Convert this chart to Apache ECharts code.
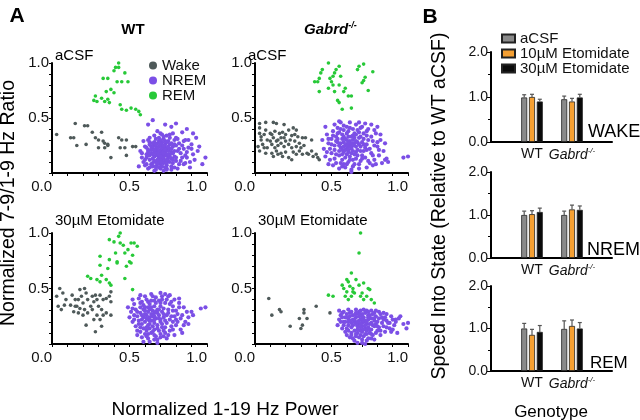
<!DOCTYPE html>
<html><head><meta charset="utf-8">
<script src="https://cdn.jsdelivr.net/npm/echarts@6/dist/echarts.min.js"></script>
<style>html,body{margin:0;padding:0;background:#fff}#c{width:640px;height:420px}</style>
</head><body><div id="c"></div><script>
// ---------- DATA ----------
const stateNames = ['Wake', 'NREM', 'REM'];
const scatterTicks = [0, 0.5, 1.0];
const barTicks = [0, 1, 2];
const genotypes = ['WT', 'Gabrd-/-'];
const conditions = ['aCSF', '10µM Etomidate', '30µM Etomidate'];
const barStates = ['WAKE', 'NREM', 'REM'];

// WT, aCSF
const wtAcsfWake = [[0.03,0.35],[0.15,0.45],[0.21,0.43],[0.23,0.43],[0.12,0.32],[0.14,0.32],[0.16,0.25],[0.22,0.26],[0.26,0.37],[0.28,0.32],[0.30,0.30],[0.32,0.37],[0.33,0.29],[0.34,0.27],[0.36,0.26],[0.30,0.23],[0.34,0.23],[0.38,0.14],[0.43,0.32],[0.45,0.30],[0.48,0.30],[0.44,0.23],[0.47,0.23],[0.48,0.16],[0.52,0.24],[0.54,0.24],[0.36,0.25]];
const wtAcsfRem = [[0.43,1.00],[0.41,0.96],[0.43,0.96],[0.40,0.93],[0.33,0.86],[0.36,0.86],[0.47,0.91],[0.42,0.83],[0.45,0.83],[0.49,0.83],[0.38,0.76],[0.35,0.74],[0.40,0.73],[0.28,0.70],[0.27,0.66],[0.32,0.68],[0.34,0.65],[0.37,0.64],[0.29,0.65],[0.44,0.62],[0.45,0.58],[0.51,0.59],[0.54,0.58],[0.56,0.56],[0.57,0.53],[0.48,0.57],[0.36,0.67]];
const wtAcsfNrem = [[0.70,0.18],[0.72,0.16],[0.68,0.20],[0.74,0.22],[0.66,0.15],[0.71,0.12],[0.75,0.14],[0.69,0.24],[0.73,0.26],[0.67,0.10],[0.77,0.19],[0.64,0.18],[0.70,0.08],[0.76,0.10],[0.72,0.21],[0.69,0.14],[0.65,0.22],[0.78,0.24],[0.71,0.28],[0.74,0.07],[0.63,0.12],[0.68,0.27],[0.79,0.15],[0.66,0.25],[0.73,0.11],[0.70,0.04],[0.81,0.20],[0.62,0.21],[0.75,0.29],[0.67,0.06],[0.72,0.31],[0.78,0.09],[0.64,0.08],[0.69,0.32],[0.76,0.17],[0.71,0.23],[0.73,0.19],[0.68,0.16],[0.70,0.13],[0.74,0.16],[0.66,0.19],[0.72,0.09],[0.69,0.11],[0.77,0.13],[0.65,0.13],[0.71,0.16],[0.73,0.23],[0.67,0.22],[0.70,0.21],[0.75,0.20],[0.68,0.08],[0.80,0.11],[0.83,0.18],[0.82,0.27],[0.85,0.22],[0.79,0.30],[0.61,0.17],[0.60,0.24],[0.63,0.28],[0.66,0.34],[0.70,0.36],[0.74,0.34],[0.78,0.36],[0.84,0.14],[0.86,0.09],[0.81,0.04],[0.77,0.03],[0.72,0.02],[0.67,0.03],[0.62,0.04],[0.59,0.10],[0.58,0.18],[0.88,0.30],[0.87,0.19],[0.90,0.22],[0.92,0.12],[0.94,0.20],[0.89,0.10],[0.76,0.26],[0.80,0.25],[0.62,0.30],[0.69,0.29],[0.73,0.29],[0.66,0.28],[0.64,0.24],[0.77,0.06],[0.74,0.04],[0.69,0.05],[0.65,0.09],[0.82,0.08],[0.79,0.20],[0.71,0.10],[0.68,0.12],[0.72,0.14],[0.75,0.11],[0.70,0.26],[0.67,0.18],[0.74,0.28],[0.76,0.22],[0.63,0.16],
  [0.65,0.48],[0.62,0.44],[0.73,0.44],[0.77,0.42],[0.80,0.45],[0.87,0.40],[0.84,0.37],[0.91,0.36],[0.93,0.32],[0.95,0.24],[0.99,0.14],[0.97,0.08],[0.89,0.05],[0.57,0.20],[0.56,0.06],[0.60,0.12],[0.59,0.29],[0.63,0.32],[0.68,0.38],[0.71,0.35],[0.76,0.35],[0.80,0.32],[0.86,0.30],[0.90,0.26],[0.91,0.17],[0.87,0.14],[0.85,0.08],[0.79,0.05],[0.74,0.03],[0.66,0.02],[0.63,0.05],[0.61,0.08],[0.58,0.14],[0.61,0.23],[0.65,0.27],
  [0.71,0.19],[0.69,0.17],[0.73,0.17],[0.72,0.25],[0.68,0.23],[0.74,0.12],[0.66,0.11],[0.70,0.10],[0.75,0.24],[0.77,0.27],[0.64,0.21],[0.67,0.26],[0.73,0.21],[0.70,0.30],[0.78,0.18],[0.76,0.15],[0.65,0.17],[0.71,0.06],[0.74,0.09],[0.68,0.09],[0.80,0.14],[0.82,0.22],[0.79,0.26],[0.84,0.25],[0.81,0.31],[0.67,0.31],[0.72,0.33],[0.76,0.32],[0.63,0.26],[0.61,0.14],[0.69,0.20],[0.72,0.18],[0.75,0.17],[0.66,0.21],[0.70,0.15],[0.78,0.12],[0.83,0.11],[0.86,0.16],[0.88,0.23],[0.85,0.29],[0.73,0.05],[0.65,0.06],[0.60,0.07],[0.62,0.19],[0.77,0.22]];

// Gabrd-/-, aCSF
const koAcsfWake = [[0.03,0.45],[0.03,0.41],[0.07,0.46],[0.12,0.46],[0.14,0.45],[0.19,0.44],[0.22,0.39],[0.25,0.41],[0.27,0.39],[0.03,0.36],[0.06,0.35],[0.10,0.36],[0.13,0.38],[0.16,0.36],[0.18,0.37],[0.20,0.35],[0.24,0.34],[0.31,0.32],[0.33,0.32],[0.37,0.30],[0.04,0.30],[0.08,0.30],[0.12,0.32],[0.15,0.30],[0.19,0.32],[0.23,0.30],[0.26,0.29],[0.29,0.27],[0.02,0.24],[0.05,0.26],[0.08,0.23],[0.11,0.26],[0.13,0.23],[0.15,0.25],[0.17,0.27],[0.19,0.24],[0.22,0.26],[0.24,0.23],[0.27,0.24],[0.30,0.23],[0.32,0.25],[0.03,0.20],[0.07,0.18],[0.11,0.18],[0.14,0.20],[0.17,0.18],[0.20,0.19],[0.25,0.19],[0.34,0.18],[0.37,0.20],[0.38,0.15],[0.41,0.14],[0.42,0.12],[0.12,0.15],[0.18,0.15],[0.22,0.14],[0.24,0.12],[0.15,0.17],[0.29,0.20],[0.27,0.17],[0.31,0.17],[0.06,0.23],[0.10,0.29],[0.14,0.29],[0.20,0.29],[0.17,0.32],[0.11,0.35],[0.26,0.35],[0.28,0.33],[0.35,0.17],[0.40,0.17],[0.07,0.39],[0.04,0.33]];
const koAcsfRem = [[0.48,1.00],[0.55,0.97],[0.53,0.94],[0.44,0.94],[0.43,0.91],[0.52,0.91],[0.56,0.88],[0.51,0.88],[0.71,0.99],[0.68,0.97],[0.67,0.94],[0.77,0.92],[0.42,0.86],[0.39,0.83],[0.49,0.86],[0.50,0.83],[0.51,0.80],[0.72,0.87],[0.71,0.84],[0.70,0.82],[0.55,0.80],[0.59,0.77],[0.42,0.74],[0.52,0.74],[0.58,0.74],[0.74,0.75],[0.61,0.70],[0.63,0.70],[0.54,0.66],[0.55,0.64],[0.57,0.58],[0.63,0.59],[0.48,0.77],[0.41,0.83]];
const koAcsfNrem = [[0.62,0.26],[0.60,0.22],[0.64,0.30],[0.58,0.28],[0.66,0.24],[0.55,0.20],[0.63,0.18],[0.68,0.32],[0.57,0.35],[0.61,0.38],[0.65,0.36],[0.70,0.28],[0.52,0.25],[0.54,0.31],[0.59,0.14],[0.67,0.16],[0.71,0.20],[0.73,0.34],[0.50,0.18],[0.48,0.27],[0.47,0.35],[0.49,0.12],[0.53,0.09],[0.57,0.06],[0.61,0.10],[0.65,0.08],[0.69,0.11],[0.72,0.14],[0.75,0.22],[0.77,0.29],[0.74,0.40],[0.70,0.42],[0.66,0.44],[0.62,0.46],[0.58,0.43],[0.54,0.41],[0.51,0.38],[0.46,0.42],[0.45,0.22],[0.44,0.30],[0.46,0.15],[0.60,0.30],[0.63,0.22],[0.59,0.25],[0.56,0.27],[0.64,0.20],[0.61,0.33],[0.67,0.28],[0.69,0.24],[0.55,0.16],[0.58,0.19],[0.62,0.15],[0.66,0.19],[0.53,0.33],[0.57,0.31],[0.60,0.36],[0.64,0.34],[0.68,0.37],[0.71,0.31],[0.73,0.26],[0.76,0.18],[0.78,0.12],[0.80,0.24],[0.79,0.36],[0.82,0.30],[0.84,0.20],[0.81,0.16],[0.83,0.09],[0.86,0.13],[0.77,0.07],[0.73,0.05],[0.68,0.04],[0.63,0.03],[0.59,0.05],[0.55,0.04],[0.51,0.07],[0.48,0.08],[0.52,0.44],[0.56,0.46],[0.68,0.46],[0.72,0.45],[0.76,0.44],[0.80,0.42],[0.63,0.27],[0.65,0.32],[0.59,0.21],[0.56,0.23],[0.61,0.19],[0.54,0.28],[0.50,0.31],[0.52,0.21],[0.66,0.13],[0.70,0.16],[0.62,0.41],[0.58,0.39],[0.71,0.36],[0.74,0.30],[0.69,0.20],[0.60,0.08],[0.57,0.12],[0.64,0.12],[0.67,0.39],[0.55,0.37],[0.49,0.22],[0.78,0.39],[0.75,0.09],[0.72,0.23],[0.65,0.27],[0.61,0.24],[0.58,0.33],[0.53,0.17],[0.47,0.19],[0.81,0.21],[0.85,0.27],[0.87,0.10],[0.55,0.47],[0.85,0.12],[0.97,0.14],[1.00,0.15],[0.63,0.01],
  [0.62,0.29],[0.60,0.26],[0.64,0.25],[0.66,0.29],[0.58,0.24],[0.61,0.21],[0.63,0.33],[0.59,0.31],[0.67,0.21],[0.65,0.17],[0.57,0.17],[0.55,0.25],[0.53,0.29],[0.69,0.33],[0.71,0.26],[0.73,0.21],[0.70,0.13],[0.62,0.12],[0.56,0.09],[0.52,0.13],[0.50,0.26],[0.51,0.34],[0.56,0.40],[0.60,0.42],[0.64,0.40],[0.69,0.41],[0.73,0.38],[0.76,0.33],[0.78,0.25],[0.77,0.16],[0.74,0.11],[0.68,0.08],[0.60,0.17],[0.63,0.23],[0.66,0.35],[0.61,0.28],[0.57,0.21],[0.68,0.26],[0.54,0.36],[0.48,0.31],[0.82,0.35],[0.80,0.28],[0.79,0.08],[0.64,0.06],[0.58,0.08]];

// WT, 30 µM etomidate
const wtEtoWake = [[0.03,0.43],[0.05,0.50],[0.07,0.46],[0.04,0.34],[0.06,0.31],[0.09,0.40],[0.12,0.35],[0.13,0.44],[0.15,0.40],[0.16,0.34],[0.18,0.49],[0.19,0.43],[0.20,0.37],[0.21,0.50],[0.22,0.46],[0.23,0.40],[0.25,0.34],[0.26,0.43],[0.27,0.38],[0.29,0.40],[0.30,0.34],[0.31,0.44],[0.33,0.40],[0.35,0.41],[0.37,0.43],[0.38,0.38],[0.32,0.31],[0.35,0.28],[0.38,0.26],[0.29,0.26],[0.27,0.22],[0.31,0.22],[0.23,0.28],[0.20,0.26],[0.17,0.28],[0.14,0.29],[0.22,0.17],[0.28,0.11],[0.32,0.16],[0.18,0.32],[0.15,0.34],[0.08,0.35],[0.33,0.26],[0.26,0.31],[0.21,0.31],[0.38,0.47],[0.17,0.40],[0.28,0.44]];
const wtEtoRem = [[0.44,1.00],[0.43,0.97],[0.40,0.92],[0.37,0.94],[0.44,0.91],[0.46,0.89],[0.51,0.91],[0.53,0.91],[0.55,0.88],[0.49,0.85],[0.47,0.82],[0.52,0.80],[0.41,0.82],[0.31,0.79],[0.37,0.76],[0.42,0.74],[0.50,0.74],[0.51,0.73],[0.36,0.68],[0.31,0.71],[0.23,0.61],[0.25,0.59],[0.29,0.58],[0.32,0.62],[0.35,0.58],[0.37,0.55],[0.38,0.53],[0.31,0.56],[0.47,0.59],[0.52,0.49],[0.42,0.73],[0.48,0.70]];
const wtEtoNrem = [[0.65,0.25],[0.62,0.22],[0.68,0.28],[0.60,0.30],[0.70,0.20],[0.58,0.18],[0.66,0.34],[0.72,0.32],[0.63,0.14],[0.69,0.12],[0.55,0.25],[0.57,0.33],[0.74,0.26],[0.76,0.36],[0.61,0.40],[0.67,0.42],[0.71,0.40],[0.78,0.30],[0.80,0.22],[0.77,0.16],[0.73,0.10],[0.66,0.08],[0.60,0.09],[0.55,0.12],[0.52,0.20],[0.51,0.29],[0.53,0.36],[0.56,0.41],[0.64,0.45],[0.70,0.46],[0.75,0.43],[0.79,0.40],[0.82,0.33],[0.84,0.26],[0.86,0.20],[0.83,0.13],[0.79,0.08],[0.74,0.05],[0.68,0.04],[0.62,0.05],[0.58,0.06],[0.54,0.16],[0.50,0.24],[0.49,0.33],[0.87,0.29],[0.90,0.29],[0.88,0.18],[0.96,0.32],[0.99,0.33],[0.59,0.02],[0.64,0.27],[0.61,0.26],[0.67,0.23],[0.63,0.31],[0.66,0.19],[0.59,0.24],[0.62,0.17],[0.69,0.26],[0.71,0.29],[0.65,0.30],[0.60,0.20],[0.57,0.28],[0.64,0.21],[0.68,0.17],[0.72,0.24],[0.70,0.34],[0.67,0.37],[0.63,0.36],[0.59,0.35],[0.56,0.21],[0.61,0.12],[0.65,0.11],[0.71,0.15],[0.74,0.19],[0.75,0.31],[0.73,0.37],[0.69,0.39],[0.64,0.39],[0.58,0.38],[0.54,0.31],[0.53,0.26],[0.57,0.15],[0.62,0.09],[0.67,0.07],[0.72,0.07],[0.76,0.12],[0.78,0.20],[0.81,0.27],[0.78,0.34],[0.74,0.40],[0.66,0.28],[0.63,0.24],[0.60,0.27],[0.65,0.16],[0.70,0.22],[0.66,0.22],[0.62,0.33],[0.68,0.31],[0.58,0.22],[0.61,0.15],[0.73,0.15],[0.77,0.25],[0.80,0.17],[0.82,0.37],[0.85,0.33],[0.76,0.44],[0.60,0.43],[0.52,0.40],[0.55,0.08],[0.70,0.09],[0.57,0.11],[0.84,0.10],[0.88,0.24],[0.91,0.26],[0.63,0.02],[0.68,0.01],[0.66,0.13],[0.59,0.31],
  [0.65,0.26],[0.63,0.21],[0.67,0.29],[0.61,0.23],[0.69,0.23],[0.64,0.33],[0.60,0.33],[0.66,0.39],[0.70,0.37],[0.72,0.27],[0.73,0.21],[0.68,0.14],[0.64,0.10],[0.59,0.14],[0.56,0.18],[0.55,0.29],[0.57,0.37],[0.62,0.38],[0.71,0.18],[0.76,0.22],[0.75,0.28],[0.77,0.38],[0.80,0.30],[0.79,0.25],[0.81,0.20],[0.78,0.13],[0.72,0.12],[0.66,0.04],[0.61,0.07],[0.58,0.26],[0.62,0.29],[0.66,0.25],[0.63,0.18],[0.69,0.31],[0.71,0.43],[0.65,0.43],[0.53,0.22],[0.52,0.32],[0.83,0.23],[0.85,0.17],[0.82,0.41],[0.73,0.45],[0.57,0.44],[0.70,0.06],[0.75,0.08]];

// Gabrd-/-, 30 µM etomidate
const koEtoWake = [[0.09,0.41],[0.11,0.26],[0.16,0.31],[0.17,0.29],[0.23,0.16],[0.29,0.23],[0.32,0.31],[0.32,0.28],[0.34,0.23],[0.31,0.17],[0.30,0.14],[0.40,0.34],[0.49,0.28]];
const koEtoRem = [[0.69,1.00],[0.68,0.82],[0.63,0.64],[0.60,0.58],[0.57,0.53],[0.58,0.50],[0.61,0.56],[0.62,0.52],[0.64,0.50],[0.66,0.58],[0.68,0.53],[0.71,0.55],[0.74,0.50],[0.75,0.49],[0.65,0.46],[0.63,0.43],[0.61,0.40],[0.59,0.43],[0.48,0.44],[0.51,0.43],[0.69,0.43],[0.71,0.40],[0.73,0.43],[0.76,0.40],[0.78,0.37],[0.64,0.47],[0.70,0.46],[0.60,0.47]];
const koEtoNrem = [[0.71,0.20],[0.68,0.18],[0.74,0.22],[0.66,0.24],[0.72,0.14],[0.63,0.19],[0.77,0.17],[0.70,0.27],[0.65,0.12],[0.79,0.25],[0.61,0.23],[0.75,0.10],[0.69,0.08],[0.62,0.28],[0.80,0.12],[0.58,0.20],[0.56,0.26],[0.57,0.14],[0.60,0.08],[0.64,0.05],[0.70,0.04],[0.76,0.05],[0.82,0.08],[0.84,0.16],[0.83,0.24],[0.81,0.29],[0.76,0.30],[0.71,0.31],[0.66,0.31],[0.61,0.31],[0.58,0.29],[0.55,0.22],[0.54,0.17],[0.59,0.11],[0.86,0.21],[0.88,0.14],[0.90,0.13],[0.92,0.20],[0.95,0.25],[0.94,0.23],[0.99,0.14],[1.00,0.19],[0.72,0.00],[0.67,0.01],[0.69,0.22],[0.73,0.18],[0.67,0.16],[0.71,0.24],[0.65,0.20],[0.74,0.26],[0.78,0.21],[0.63,0.15],[0.69,0.12],[0.73,0.09],[0.76,0.13],[0.79,0.18],[0.66,0.27],[0.64,0.22],[0.61,0.17],[0.68,0.25],[0.72,0.28],[0.75,0.26],[0.70,0.16],[0.67,0.10],[0.63,0.10],[0.60,0.14],[0.59,0.24],[0.62,0.25],[0.77,0.08],[0.80,0.20],[0.82,0.27],[0.85,0.11],[0.87,0.19],[0.78,0.28],[0.73,0.30],[0.68,0.29],[0.57,0.24],[0.55,0.30],[0.62,0.06],[0.66,0.07],[0.71,0.07],[0.74,0.05],[0.79,0.10],[0.81,0.15],[0.84,0.22],[0.89,0.25],[0.91,0.17],[0.70,0.19],[0.72,0.21],[0.69,0.15],[0.74,0.15],[0.66,0.18],[0.64,0.26],[0.76,0.23],[0.78,0.16],[0.65,0.03],[0.58,0.17],[0.60,0.27],[0.83,0.19],[0.86,0.27],[0.68,0.21],[0.73,0.12],[0.70,0.11],[0.75,0.18],[0.61,0.20],[0.97,0.18],[0.93,0.10],[0.90,0.22],
  [0.71,0.21],[0.69,0.18],[0.73,0.20],[0.70,0.23],[0.67,0.20],[0.72,0.17],[0.74,0.24],[0.68,0.27],[0.65,0.22],[0.76,0.19],[0.78,0.23],[0.75,0.13],[0.71,0.13],[0.67,0.13],[0.64,0.17],[0.62,0.21],[0.63,0.29],[0.69,0.30],[0.74,0.29],[0.77,0.27],[0.80,0.16],[0.81,0.23],[0.79,0.30],[0.72,0.09],[0.68,0.06],[0.63,0.08],[0.59,0.20],[0.60,0.24],[0.82,0.12],[0.85,0.24],[0.88,0.19],[0.73,0.03],[0.76,0.09],[0.66,0.09],[0.61,0.12],[0.57,0.28],[0.70,0.25],[0.66,0.28],[0.84,0.28],[0.86,0.15],[0.92,0.22],[0.89,0.11],[0.78,0.04],[0.70,0.01],[0.56,0.20]];

// Bar panels: rows = conditions (aCSF, 10µM, 30µM), columns = genotypes (WT, Gabrd-/-)
const wakeMeans = [[0.99,0.95],[1.00,0.90],[0.90,0.99]];
const wakeErrs  = [[0.06,0.07],[0.06,0.07],[0.05,0.07]];
const nremMeans = [[1.00,1.00],[1.02,1.13],[1.07,1.12]];
const nremErrs  = [[0.09,0.09],[0.08,0.10],[0.09,0.09]];
const remMeans  = [[1.00,0.99],[0.85,1.06],[0.92,1.00]];
const remErrs   = [[0.12,0.19],[0.13,0.14],[0.15,0.14]];

// ---------- STYLE / LAYOUT ----------
const FONT = "'Liberation Sans', Arial, Helvetica, sans-serif";
const stateColors = ['#4f5a5a', '#7b4fe6', '#27c938'];
const stateSizes = [3.6, 4.2, 3.6];
const condColors = ['#8a8a8a', '#f5a033', '#0a0a0a'];
const scatterGrids = [
  {left: 52, top: 63, width: 155, height: 110},
  {left: 255, top: 63, width: 153, height: 110},
  {left: 52, top: 233, width: 155, height: 111},
  {left: 255, top: 233, width: 153, height: 111}
];
const barGrids = [
  {left: 491, top: 52, width: 121, height: 90},
  {left: 491, top: 172, width: 121, height: 86},
  {left: 491, top: 286, width: 121, height: 85}
];
const scatterPanels = [
  [wtAcsfWake, wtAcsfNrem, wtAcsfRem],
  [koAcsfWake, koAcsfNrem, koAcsfRem],
  [wtEtoWake, wtEtoNrem, wtEtoRem],
  [koEtoWake, koEtoNrem, koEtoRem]
];
const barMeans = [wakeMeans, nremMeans, remMeans];
const barErrs = [wakeErrs, nremErrs, remErrs];
const BAR_W = 6, BAR_GAP = 0.3;
const barStep = BAR_W * (1 + BAR_GAP);

const grids = [], xAxes = [], yAxes = [], series = [];
const axisLineStyle = {color: '#000', width: 2};

scatterGrids.forEach((g, i) => {
  grids.push(Object.assign({containLabel: false}, g));
  xAxes.push({
    gridIndex: i, type: 'value', min: scatterTicks[0], max: scatterTicks[2], interval: scatterTicks[1] - scatterTicks[0],
    axisLine: {show: true, onZero: false, lineStyle: axisLineStyle},
    axisTick: {show: true, length: 3, lineStyle: {color: '#000'}},
    minorTick: {show: true, splitNumber: 5, length: 3, lineStyle: {color: '#000'}},
    splitLine: {show: false},
    axisLabel: {fontSize: 15, color: '#111', margin: 6, fontFamily: FONT,
      formatter: v => v.toFixed(1), alignMinLabel: 'right', alignMaxLabel: 'right'}
  });
  yAxes.push({
    gridIndex: i, type: 'value', min: scatterTicks[0], max: scatterTicks[2], interval: scatterTicks[1] - scatterTicks[0],
    axisLine: {show: true, onZero: false, lineStyle: axisLineStyle},
    axisTick: {show: true, length: 3, lineStyle: {color: '#000'}},
    minorTick: {show: true, splitNumber: 5, length: 3, lineStyle: {color: '#000'}},
    splitLine: {show: false},
    axisLabel: {fontSize: 15, color: '#111', margin: 3, fontFamily: FONT, showMinLabel: false,
      formatter: v => v.toFixed(1)}
  });
  scatterPanels[i].forEach((pts, s) => {
    series.push({
      type: 'scatter', name: stateNames[s], xAxisIndex: i, yAxisIndex: i,
      data: pts, symbol: 'circle', symbolSize: stateSizes[s],
      itemStyle: {color: stateColors[s], opacity: 1}, z: s === 1 ? 3 : 2,
      emphasis: {disabled: true}
    });
  });
});

barGrids.forEach((g, k) => {
  const gi = scatterGrids.length + k;
  grids.push(Object.assign({containLabel: false}, g));
  xAxes.push({
    gridIndex: gi, type: 'value', min: -1.025, max: 2.0,
    axisLine: {show: true, onZero: false, lineStyle: axisLineStyle},
    axisTick: {show: false}, splitLine: {show: false},
    axisLabel: {
      customValues: genotypes.map((_, i) => i), margin: 5, fontSize: 14, color: '#111', fontFamily: FONT,
      formatter: v => {
        const lab = genotypes[Math.round(v)];
        return lab === 'WT' ? lab : '{i|Gabrd}{s|-/-}';
      },
      rich: {
        i: {fontStyle: 'italic', fontSize: 14, fontFamily: FONT, color: '#111'},
        s: {fontStyle: 'italic', fontSize: 8, fontFamily: FONT, color: '#111', padding: [0, 0, 8, 0]}
      }
    }
  });
  yAxes.push({
    gridIndex: gi, type: 'value', min: barTicks[0], max: barTicks[2], interval: barTicks[1] - barTicks[0],
    axisLine: {show: true, onZero: false, lineStyle: axisLineStyle},
    axisTick: {show: true, length: 4, lineStyle: {color: '#000'}},
    minorTick: {show: true, splitNumber: 2, length: 3, lineStyle: {color: '#000'}},
    splitLine: {show: false},
    axisLabel: {fontSize: 14, color: '#111', margin: 3, fontFamily: FONT, formatter: v => v.toFixed(1)}
  });
  conditions.forEach((c, ci) => {
    series.push({
      type: 'bar', name: c, xAxisIndex: gi, yAxisIndex: gi,
      data: genotypes.map((_, i) => [i, barMeans[k][ci][i]]),
      barWidth: BAR_W, barGap: (BAR_GAP * 100) + '%',
      itemStyle: {color: condColors[ci], borderColor: '#222', borderWidth: 0.8},
      emphasis: {disabled: true}
    });
  });
  const errData = [];
  conditions.forEach((c, ci) => genotypes.forEach((_, i) => errData.push([i, ci, barMeans[k][ci][i], barErrs[k][ci][i]])));
  series.push({
    type: 'custom', xAxisIndex: gi, yAxisIndex: gi, data: errData, z: 5, clip: false,
    encode: {x: 0, y: 2},
    renderItem: (params, api) => {
      const xi = api.value(0), ci = api.value(1), m = api.value(2), e = api.value(3);
      const p0 = api.coord([xi, m]);
      const p1 = api.coord([xi, m + e]);
      const x = p0[0] + (ci - 1) * barStep;
      const st = {stroke: '#555', lineWidth: 1.2};
      return {type: 'group', children: [
        {type: 'line', shape: {x1: x, y1: p0[1], x2: x, y2: p1[1]}, style: st},
        {type: 'line', shape: {x1: x - 2, y1: p1[1], x2: x + 2, y2: p1[1]}, style: st}
      ]};
    }
  });
});

function txt(text, x, y, size, opts) {
  opts = opts || {};
  return {type: 'text', x: x, y: y, rotation: opts.rot || 0, z: 10,
    style: Object.assign({text: text, fontSize: size, fontFamily: FONT, fontWeight: opts.bold ? 'bold' : 'normal',
      fontStyle: opts.italic ? 'italic' : 'normal', fill: '#000',
      align: opts.align || 'center', verticalAlign: 'middle'}, opts.style || {})};
}

const graphics = [
  txt('A', 17, 16, 21, {bold: true}),
  txt('B', 430, 17, 21, {bold: true}),
  txt('WT', 133, 30, 15, {bold: true}),
  txt('{i|Gabrd}{s|-/-}', 304, 30, 15, {bold: true, italic: true, align: 'left', style: {rich: {
    i: {fontSize: 15, fontWeight: 'bold', fontStyle: 'italic', fontFamily: FONT, fill: '#000'},
    s: {fontSize: 9, fontWeight: 'bold', fontStyle: 'italic', fontFamily: FONT, fill: '#000', padding: [0, 0, 8, 0]}}}}),
  txt('aCSF', 55, 56, 15, {align: 'left'}),
  txt('aCSF', 248, 56, 15, {align: 'left'}),
  txt('30µM Etomidate', 55, 221, 15, {align: 'left'}),
  txt('30µM Etomidate', 258, 221, 15, {align: 'left'}),
  txt('Normalized 7-9/1-9 Hz Ratio', 9, 203, 19.5, {rot: Math.PI / 2}),
  txt('Normalized 1-19 Hz Power', 225, 410, 19, {}),
  txt('Speed Into State (Relative to WT aCSF)', 440, 206, 19.5, {rot: Math.PI / 2}),
  txt('Genotype', 551, 412, 17, {}),
  txt(barStates[0], 588, 132, 18, {align: 'left'}),
  txt(barStates[1], 587, 250, 18, {align: 'left'}),
  txt(barStates[2], 590, 363, 17, {align: 'left'})
];

const chart = echarts.init(document.getElementById('c'), null, {renderer: 'canvas'});
chart.setOption({
  animation: false,
  backgroundColor: '#fff',
  textStyle: {fontFamily: FONT},
  grid: grids, xAxis: xAxes, yAxis: yAxes, series: series,
  legend: [
    {data: stateNames, orient: 'vertical', left: 144, top: 53, itemWidth: 8, itemHeight: 8, itemGap: 0,
      icon: 'circle', selectedMode: false,
      textStyle: {fontSize: 15, lineHeight: 12.3, color: '#111', fontFamily: FONT}},
    {data: conditions, orient: 'vertical', left: 496, top: 26, itemWidth: 13, itemHeight: 8, itemGap: 0,
      icon: 'rect', selectedMode: false,
      textStyle: {fontSize: 15, lineHeight: 14.5, color: '#111', fontFamily: FONT}}
  ],
  graphic: graphics
});
</script></body></html>
